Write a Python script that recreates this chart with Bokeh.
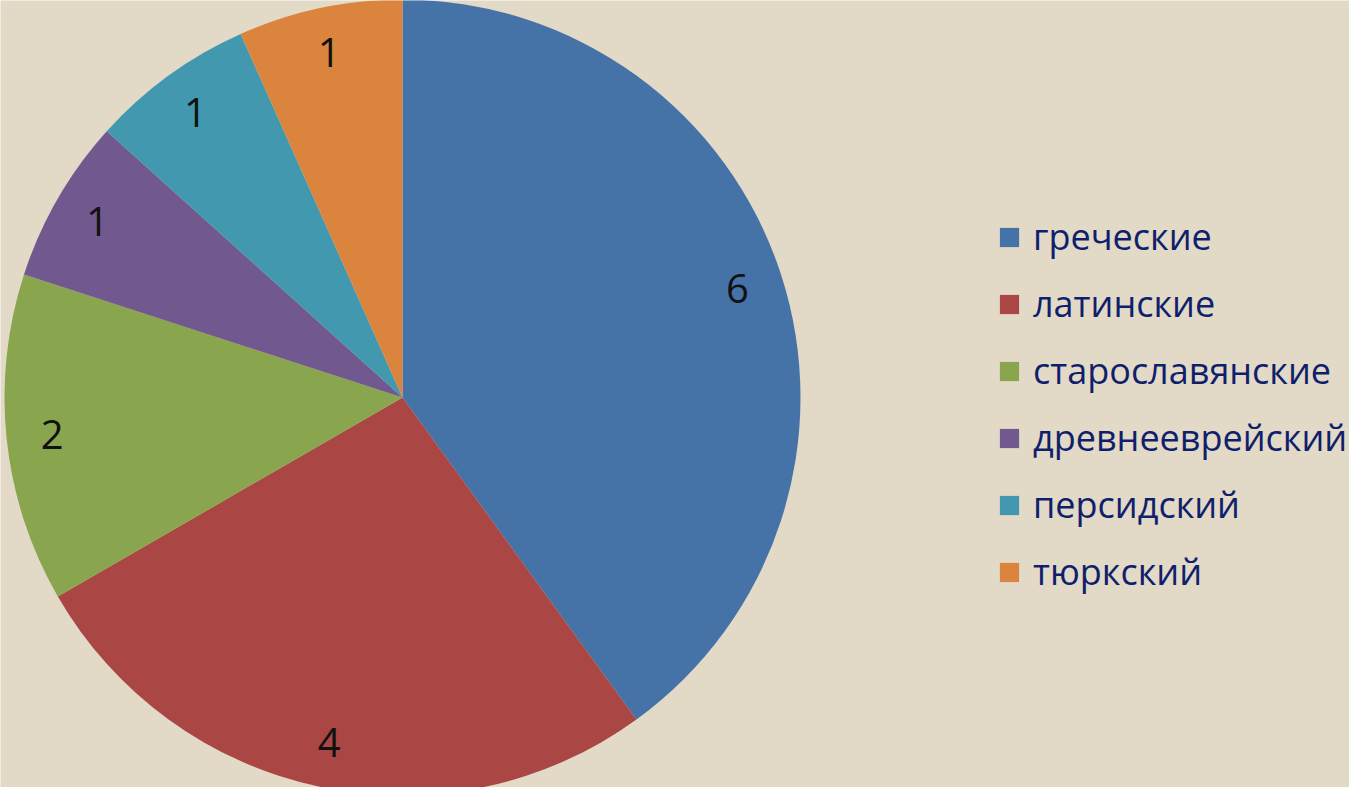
import math
from bokeh.plotting import figure
from bokeh.models import ColumnDataSource, Legend, LegendItem
from bokeh.core.properties import value
from bokeh.embed import file_html
from bokeh.resources import INLINE

categories = ["греческие", "латинские", "старославянские", "древнееврейский", "персидский", "тюркский"]
counts = [6, 4, 2, 1, 1, 1]
colors = ["#4572a7", "#aa4643", "#89a54e", "#71588f", "#4198af", "#db843d"]

W, H = 1349, 787
CX, CY = 402, H - 397
R = 398
BG = "#e2d9c7"

total = sum(counts)
starts, ends, lx, ly = [], [], [], []
cum = 0.0
for c in counts:
    a0 = math.pi / 2 - 2 * math.pi * cum / total
    cum += c
    a1 = math.pi / 2 - 2 * math.pi * cum / total
    starts.append(a0)
    ends.append(a1)
    mid = (a0 + a1) / 2
    lx.append(CX + 0.885 * R * math.cos(mid))
    ly.append(CY + 0.885 * R * math.sin(mid))

src = ColumnDataSource(dict(cat=categories, val=counts, col=colors, s=starts, e=ends,
                            x=[CX] * len(counts), y=[CY] * len(counts),
                            lx=lx, ly=ly, lab=[str(v) for v in counts]))

p = figure(width=W, height=H, x_range=(0, W), y_range=(0, H), output_backend="svg",
           toolbar_location=None, min_border=0)
p.axis.visible = False
p.grid.visible = False
p.outline_line_color = None
p.background_fill_color = BG
p.border_fill_color = BG

r = p.wedge(x="x", y="y", radius=R, radius_units="screen", start_angle="s", end_angle="e",
            direction="clock", fill_color="col", line_color=None, source=src)

p.text(x="lx", y="ly", text="lab", source=src, text_align="center", text_baseline="middle",
       text_font=value("Open Sans"), text_font_size="40px", text_color="#111111")

items = [LegendItem(label=categories[i], renderers=[r], index=i) for i in range(len(categories))]
legend = Legend(items=items, location=(997, 191), orientation="vertical",
                glyph_width=24, glyph_height=24, spacing=18, label_standoff=12,
                label_text_font="Open Sans", label_text_font_size="36px",
                label_text_color="#0f1f6b", background_fill_alpha=0, border_line_color=None,
                padding=0, margin=0)
p.add_layout(legend, "center")

html = file_html(p, INLINE)
html = html.replace("<body>", '<body style="background:%s">' % BG, 1)
open("out.html", "w").write(html)
